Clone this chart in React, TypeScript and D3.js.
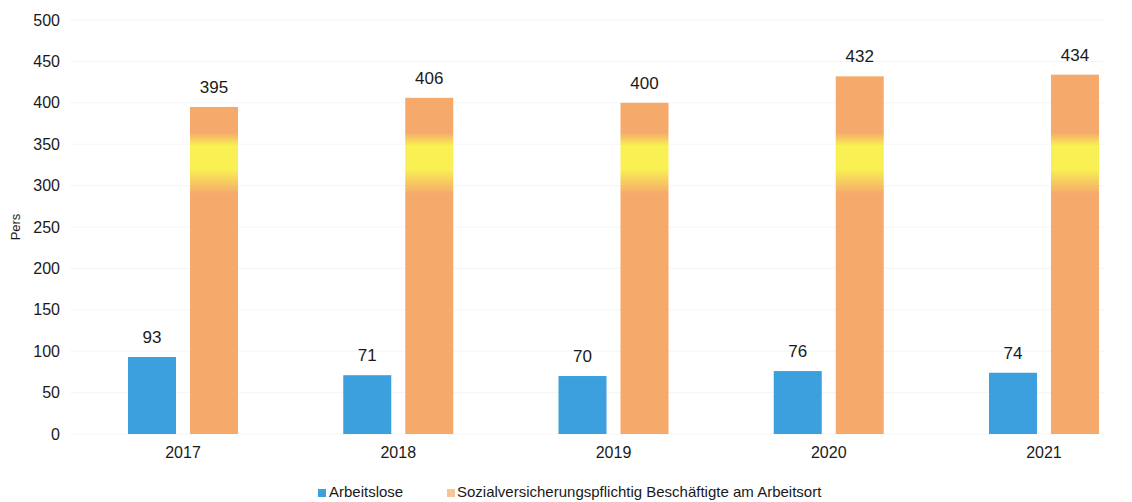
import React from "react";
import * as d3 from "d3";

const years = ["2017", "2018", "2019", "2020", "2021"];
const arbeitslose = [93, 71, 70, 76, 74];
const beschaeftigte = [395, 406, 400, 432, 434];
const seriesNames = ["Arbeitslose", "Sozialversicherungspflichtig Beschäftigte am Arbeitsort"];
const yTicks = [0, 50, 100, 150, 200, 250, 300, 350, 400, 450, 500];

const BLUE = "#3ba0dd";
const ORANGE = "#f5aa6b";
const YELLOW = "#f9f053";

export default function App() {
  const W = 1132, H = 502;
  const y = d3.scaleLinear().domain([0, 500]).range([434, 20]);
  const x0 = d3.scaleBand().domain(years).range([75.4, 1151.6]).paddingInner(0).paddingOuter(0);
  const x1 = d3.scaleBand().domain(["a", "b"]).range([-55, 55]).paddingInner(14 / 62).paddingOuter(0);
  const font = "Arial, 'Liberation Sans', sans-serif";
  const off = (v: number) => (y(v) - y(500)) / (y(0) - y(500));
  const gradStops: [number, string][] = [
    [500, ORANGE], [364, ORANGE], [348, YELLOW], [320, YELLOW], [290, ORANGE], [0, ORANGE],
  ];
  return (
    <svg width={W} height={H} style={{ position: "absolute", left: 0, top: 0, background: "#fff" }} fontFamily={font}>
      <defs>
        <linearGradient id="og" gradientUnits="userSpaceOnUse" x1={0} x2={0} y1={y(500)} y2={y(0)}>
          {gradStops.map(([v, c], i) => (
            <stop key={i} offset={off(v)} stopColor={c} />
          ))}
        </linearGradient>
      </defs>
      {yTicks.map((t) => (
        <g key={t}>
          <line x1={70} x2={1105} y1={y(t)} y2={y(t)} stroke="#f5f5f5" strokeWidth={1} />
          <text x={60} y={y(t)} dy="0.35em" textAnchor="end" fontSize={16} fill="#1a1a1a">{t}</text>
        </g>
      ))}
      <text transform={`translate(20,${y(250)}) rotate(-90)`} textAnchor="middle" fontSize={13} fill="#1a1a1a">Pers</text>
      {years.map((yr, i) => {
        const c = x0(yr)! + x0.bandwidth() / 2;
        const bw = x1.bandwidth();
        const xa = c + x1("a")!;
        const xb = c + x1("b")!;
        return (
          <g key={yr}>
            <rect x={xa} y={y(arbeitslose[i])} width={bw} height={y(0) - y(arbeitslose[i])} fill={BLUE} />
            <rect x={xb} y={y(beschaeftigte[i])} width={bw} height={y(0) - y(beschaeftigte[i])} fill="url(#og)" />
            <text x={xa + bw / 2} y={y(arbeitslose[i]) - 14} textAnchor="middle" fontSize={17} fill="#1a1a1a">{arbeitslose[i]}</text>
            <text x={xb + bw / 2} y={y(beschaeftigte[i]) - 14} textAnchor="middle" fontSize={17} fill="#1a1a1a">{beschaeftigte[i]}</text>
            <text x={c} y={458} textAnchor="middle" fontSize={16} fill="#1a1a1a">{yr}</text>
          </g>
        );
      })}
      <g fontSize={15} fill="#1a1a1a">
        <rect x={318} y={489} width={8} height={8} fill={BLUE} />
        <text x={329} y={497}>{seriesNames[0]}</text>
        <rect x={447} y={489} width={8} height={8} fill={ORANGE} opacity={0.7} />
        <text x={457} y={497}>{seriesNames[1]}</text>
      </g>
    </svg>
  );
}
